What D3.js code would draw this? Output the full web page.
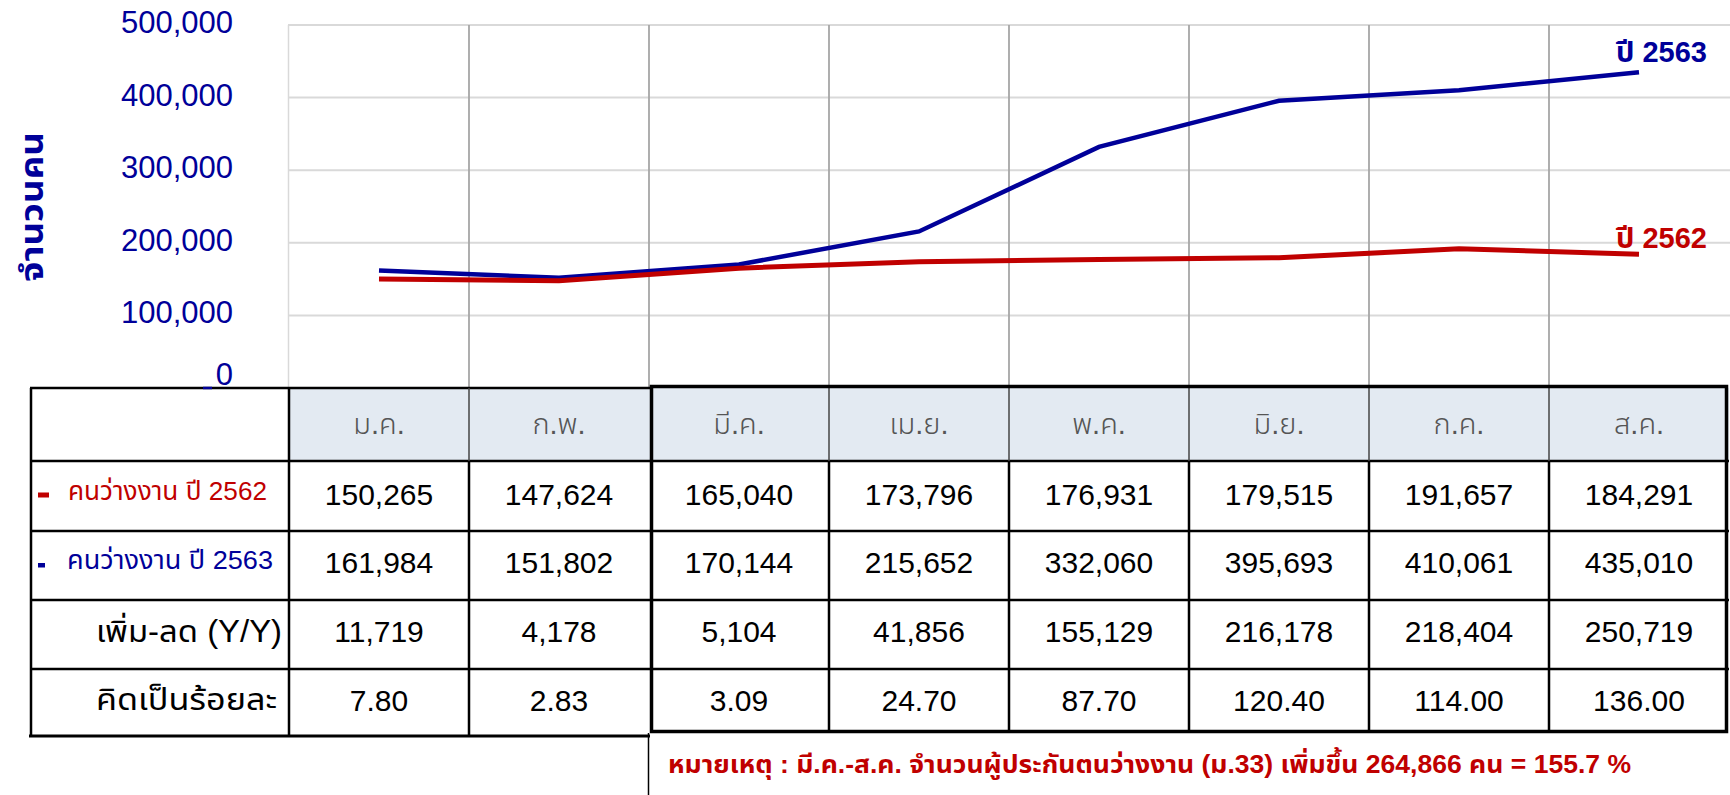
<!DOCTYPE html>
<html>
<head>
<meta charset="utf-8">
<script src="https://cdn.jsdelivr.net/npm/d3@7"></script>
<style>
  html, body { margin: 0; padding: 0; background: #ffffff; }
  svg { display: block; }
  text { font-family: "Liberation Sans", Arial, "Noto Sans Thai", "Noto Sans", sans-serif; }
</style>
</head>
<body>
<svg id="chart" width="1730" height="795"></svg>
<script>
// ---------------- data ----------------
const months = ["ม.ค.", "ก.พ.", "มี.ค.", "เม.ย.", "พ.ค.", "มิ.ย.", "ก.ค.", "ส.ค."];
const unemployed2562 = [150265, 147624, 165040, 173796, 176931, 179515, 191657, 184291];
const unemployed2563 = [161984, 151802, 170144, 215652, 332060, 395693, 410061, 435010];
const changeYY = [11719, 4178, 5104, 41856, 155129, 216178, 218404, 250719];
const changePct = [7.80, 2.83, 3.09, 24.70, 87.70, 120.40, 114.00, 136.00];
const yTicks = [0, 100000, 200000, 300000, 400000, 500000];
const seriesNames = ["ปี 2562", "ปี 2563"];
const rowLabels = ["คนว่างงาน ปี 2562", "คนว่างงาน  ปี 2563", "เพิ่ม-ลด (Y/Y)", "คิดเป็นร้อยละ"];
const yTitle = "จำนวนคน";
const note = "หมายเหตุ : มี.ค.-ส.ค. จำนวนผู้ประกันตนว่างงาน (ม.33) เพิ่มขึ้น 264,866 คน = 155.7 %";

// ---------------- layout ----------------
const RED = "#C00000", BLUE = "#000099", NAVY_TXT = "#000099";
const svg = d3.select("#chart");
const x = d3.scaleBand().domain(months).range([289, 1729]).padding(0);
const y = d3.scaleLinear().domain([0, 500000]).range([388, 25]);
const fmt = d3.format(",");
const fmt2 = d3.format(".2f");
const rowEdges = [388, 461, 531, 600, 669, 736];

// ---------------- plot grid ----------------
const grid = svg.append("g");
grid.selectAll("line.h").data(yTicks.filter(d => d > 0)).join("line")
  .attr("x1", 288).attr("x2", 1730)
  .attr("y1", d => y(d)).attr("y2", d => y(d))
  .attr("stroke", "#D9D9D9").attr("stroke-width", 2);
grid.append("line").attr("x1", 288.5).attr("x2", 288.5).attr("y1", y(500000)).attr("y2", y(0))
  .attr("stroke", "#D9D9D9").attr("stroke-width", 1.5);
grid.selectAll("line.v").data(months.slice(1)).join("line")
  .attr("x1", d => x(d)).attr("x2", d => x(d))
  .attr("y1", y(500000)).attr("y2", y(0))
  .attr("stroke", "#A6A6A6").attr("stroke-width", 1.8);

// y tick labels
svg.append("g").selectAll("text").data(yTicks).join("text")
  .attr("x", 233)
  .attr("y", d => y(d) + (d === 0 ? -3 : 8))
  .attr("text-anchor", "end")
  .attr("fill", NAVY_TXT)
  .attr("font-size", 31)
  .text(d => fmt(d));

// y title
svg.append("text")
  .attr("transform", "translate(43,207) rotate(-90)")
  .attr("text-anchor", "middle")
  .attr("fill", NAVY_TXT)
  .attr("font-weight", "bold")
  .attr("font-size", 31)
  .attr("textLength", 150).attr("lengthAdjust", "spacingAndGlyphs")
  .text(yTitle);

// ---------------- lines ----------------
const line = d3.line()
  .x((d, i) => x(months[i]) + x.bandwidth() / 2)
  .y(d => y(d));
svg.append("path").datum(unemployed2563).attr("d", line)
  .attr("fill", "none").attr("stroke", BLUE).attr("stroke-width", 4.5);
svg.append("path").datum(unemployed2562).attr("d", line)
  .attr("fill", "none").attr("stroke", RED).attr("stroke-width", 5);

// series end labels
svg.append("text").attr("x", 1707).attr("y", 62).attr("text-anchor", "end")
  .attr("fill", BLUE).attr("font-weight", "bold").attr("font-size", 29).text(seriesNames[1]);
svg.append("text").attr("x", 1707).attr("y", 248).attr("text-anchor", "end")
  .attr("fill", RED).attr("font-weight", "bold").attr("font-size", 29).text(seriesNames[0]);

// ---------------- table ----------------
const tbl = svg.append("g");
tbl.append("rect").attr("x", 289).attr("y", rowEdges[0]).attr("width", 1729 - 289)
  .attr("height", rowEdges[1] - rowEdges[0]).attr("fill", "#E3EAF2");
tbl.selectAll("text.m").data(months).join("text")
  .attr("x", d => x(d) + x.bandwidth() / 2)
  .attr("y", 434)
  .attr("text-anchor", "middle")
  .attr("fill", "#555555")
  .attr("font-size", 29)
  .attr("font-weight", 300)
  .text(d => d);

const rows = [unemployed2562.map(fmt), unemployed2563.map(fmt), changeYY.map(fmt), changePct.map(fmt2)];
const rowBaselines = [505, 573, 642, 711];
rows.forEach((vals, r) => {
  tbl.append("g").selectAll("text").data(vals).join("text")
    .attr("x", (d, i) => x(months[i]) + x.bandwidth() / 2)
    .attr("y", rowBaselines[r])
    .attr("text-anchor", "middle")
    .attr("fill", "#000000")
    .attr("font-size", 30)
    .text(d => d);
});

// row labels
tbl.append("rect").attr("x", 38).attr("y", 492.5).attr("width", 11).attr("height", 5).attr("fill", RED);
tbl.append("rect").attr("x", 38).attr("y", 563).attr("width", 7).attr("height", 4.5).attr("fill", BLUE);
tbl.append("text").attr("x", 68).attr("y", 500).attr("fill", RED).attr("font-size", 26)
  .attr("textLength", 199).attr("lengthAdjust", "spacingAndGlyphs").text(rowLabels[0]);
tbl.append("text").attr("x", 67).attr("y", 569).attr("fill", BLUE).attr("font-size", 26)
  .attr("textLength", 206).attr("lengthAdjust", "spacingAndGlyphs").text(rowLabels[1]);
tbl.append("text").attr("x", 96).attr("y", 642).attr("fill", "#000").attr("font-size", 31)
  .attr("textLength", 186).attr("lengthAdjust", "spacingAndGlyphs").text(rowLabels[2]);
tbl.append("text").attr("x", 96).attr("y", 710).attr("fill", "#000").attr("font-size", 31)
  .attr("textLength", 181).attr("lengthAdjust", "spacingAndGlyphs").text(rowLabels[3]);

const seg = (x1, y1, x2, y2, w, c) => tbl.append("line").attr("x1", x1).attr("y1", y1).attr("x2", x2).attr("y2", y2)
  .attr("stroke", c || "#000").attr("stroke-width", w);
rowEdges.slice(1, 5).forEach(e => seg(30, e, 1729, e, 2.5));
seg(30, rowEdges[0], 650, rowEdges[0], 2.5);
seg(29, rowEdges[5], 650, rowEdges[5], 3);
seg(31, rowEdges[0], 31, rowEdges[5], 2.5);
seg(289, rowEdges[0], 289, rowEdges[5], 2.5);
seg(x(months[1]), rowEdges[0], x(months[1]), rowEdges[1], 1.5, "#444");
seg(x(months[1]), rowEdges[1], x(months[1]), rowEdges[5], 2.5);
months.slice(3).forEach(m => {
  seg(x(m), rowEdges[0], x(m), rowEdges[1], 1.5, "#444");
  seg(x(m), rowEdges[1], x(m), 731, 2.5);
});
tbl.append("rect").attr("x", 651.5).attr("y", 386.5).attr("width", 1726.5 - 651.5).attr("height", 731.5 - 386.5)
  .attr("fill", "none").attr("stroke", "#000").attr("stroke-width", 3.5);
seg(648.5, 733, 648.5, 795, 1.5);

// small axis dash at zero (drawn over table border)
svg.append("line").attr("x1", 203).attr("x2", 212).attr("y1", y(0)).attr("y2", y(0))
  .attr("stroke", NAVY_TXT).attr("stroke-width", 2.5);

// note
svg.append("text").attr("x", 668).attr("y", 773)
  .attr("fill", RED).attr("font-weight", "bold").attr("font-size", 25)
  .attr("textLength", 963).attr("lengthAdjust", "spacingAndGlyphs")
  .text(note);
</script>
</body>
</html>
